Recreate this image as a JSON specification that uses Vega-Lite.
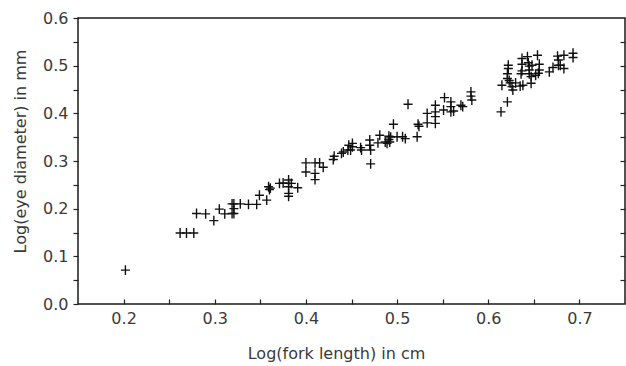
{
  "$schema": "https://vega.github.io/schema/vega-lite/v6.json",
  "autosize": "none",
  "width": 547,
  "height": 286,
  "padding": {"left": 78, "top": 18, "right": 1, "bottom": 62},
  "background": "white",
  "config": {
    "view": {"stroke": "#1a1a1a", "strokeWidth": 1.5},
    "axis": {"labelFont": "DejaVu Sans", "titleFont": "DejaVu Sans", "labelFontSize": 16, "titleFontSize": 16, "labelColor": "#3a3a3a", "titleColor": "#3a3a3a", "titleFontWeight": "normal", "grid": false, "domain": false, "tickColor": "#222", "tickWidth": 1.2}
  },
  "data": {"values": [
    {"x": 0.202, "y": 0.071},
    {"x": 0.262, "y": 0.149}, {"x": 0.269, "y": 0.149}, {"x": 0.277, "y": 0.149},
    {"x": 0.280, "y": 0.190}, {"x": 0.290, "y": 0.189}, {"x": 0.299, "y": 0.175},
    {"x": 0.305, "y": 0.199}, {"x": 0.311, "y": 0.189},
    {"x": 0.319, "y": 0.190}, {"x": 0.319, "y": 0.210},
    {"x": 0.321, "y": 0.210}, {"x": 0.321, "y": 0.200}, {"x": 0.321, "y": 0.190},
    {"x": 0.328, "y": 0.210}, {"x": 0.337, "y": 0.209}, {"x": 0.346, "y": 0.209},
    {"x": 0.349, "y": 0.228}, {"x": 0.357, "y": 0.218},
    {"x": 0.359, "y": 0.246}, {"x": 0.360, "y": 0.240}, {"x": 0.361, "y": 0.243},
    {"x": 0.371, "y": 0.253}, {"x": 0.375, "y": 0.254},
    {"x": 0.381, "y": 0.260}, {"x": 0.381, "y": 0.253}, {"x": 0.381, "y": 0.246}, {"x": 0.384, "y": 0.253},
    {"x": 0.381, "y": 0.232}, {"x": 0.381, "y": 0.226},
    {"x": 0.391, "y": 0.244},
    {"x": 0.400, "y": 0.296}, {"x": 0.400, "y": 0.277},
    {"x": 0.410, "y": 0.296}, {"x": 0.415, "y": 0.296},
    {"x": 0.410, "y": 0.274}, {"x": 0.410, "y": 0.261},
    {"x": 0.419, "y": 0.287},
    {"x": 0.430, "y": 0.303}, {"x": 0.431, "y": 0.310},
    {"x": 0.439, "y": 0.316}, {"x": 0.441, "y": 0.319},
    {"x": 0.446, "y": 0.323}, {"x": 0.447, "y": 0.333},
    {"x": 0.449, "y": 0.323}, {"x": 0.451, "y": 0.337}, {"x": 0.451, "y": 0.330},
    {"x": 0.460, "y": 0.328}, {"x": 0.461, "y": 0.323},
    {"x": 0.470, "y": 0.344}, {"x": 0.470, "y": 0.333}, {"x": 0.471, "y": 0.323},
    {"x": 0.471, "y": 0.294},
    {"x": 0.479, "y": 0.338}, {"x": 0.481, "y": 0.354},
    {"x": 0.487, "y": 0.340},
    {"x": 0.491, "y": 0.352}, {"x": 0.491, "y": 0.345}, {"x": 0.492, "y": 0.340}, {"x": 0.489, "y": 0.337}, {"x": 0.493, "y": 0.350},
    {"x": 0.496, "y": 0.377},
    {"x": 0.500, "y": 0.351},
    {"x": 0.506, "y": 0.351}, {"x": 0.509, "y": 0.347},
    {"x": 0.512, "y": 0.419},
    {"x": 0.522, "y": 0.351},
    {"x": 0.523, "y": 0.377}, {"x": 0.524, "y": 0.373},
    {"x": 0.533, "y": 0.400}, {"x": 0.533, "y": 0.380},
    {"x": 0.542, "y": 0.417}, {"x": 0.542, "y": 0.403}, {"x": 0.542, "y": 0.393}, {"x": 0.542, "y": 0.379},
    {"x": 0.552, "y": 0.433}, {"x": 0.551, "y": 0.407},
    {"x": 0.559, "y": 0.424}, {"x": 0.559, "y": 0.414}, {"x": 0.559, "y": 0.403},
    {"x": 0.562, "y": 0.405},
    {"x": 0.570, "y": 0.417}, {"x": 0.572, "y": 0.414},
    {"x": 0.581, "y": 0.445}, {"x": 0.581, "y": 0.436}, {"x": 0.582, "y": 0.428},
    {"x": 0.614, "y": 0.403}, {"x": 0.621, "y": 0.424}, {"x": 0.615, "y": 0.459},
    {"x": 0.621, "y": 0.473}, {"x": 0.621, "y": 0.483}, {"x": 0.622, "y": 0.494}, {"x": 0.622, "y": 0.501},
    {"x": 0.623, "y": 0.469}, {"x": 0.624, "y": 0.464},
    {"x": 0.626, "y": 0.456}, {"x": 0.627, "y": 0.449},
    {"x": 0.630, "y": 0.464},
    {"x": 0.635, "y": 0.457}, {"x": 0.638, "y": 0.459},
    {"x": 0.637, "y": 0.515}, {"x": 0.637, "y": 0.503}, {"x": 0.637, "y": 0.489}, {"x": 0.636, "y": 0.483},
    {"x": 0.643, "y": 0.519}, {"x": 0.644, "y": 0.506}, {"x": 0.645, "y": 0.499}, {"x": 0.645, "y": 0.491}, {"x": 0.645, "y": 0.483},
    {"x": 0.647, "y": 0.477}, {"x": 0.647, "y": 0.463},
    {"x": 0.648, "y": 0.501},
    {"x": 0.654, "y": 0.522},
    {"x": 0.656, "y": 0.503}, {"x": 0.656, "y": 0.491}, {"x": 0.655, "y": 0.484},
    {"x": 0.652, "y": 0.480},
    {"x": 0.667, "y": 0.487},
    {"x": 0.676, "y": 0.520}, {"x": 0.677, "y": 0.512}, {"x": 0.677, "y": 0.501}, {"x": 0.679, "y": 0.501},
    {"x": 0.671, "y": 0.496},
    {"x": 0.683, "y": 0.522}, {"x": 0.683, "y": 0.494},
    {"x": 0.693, "y": 0.526}, {"x": 0.693, "y": 0.517}
  ]},
  "layer": [
    {
      "mark": {"type": "point", "shape": "M-1,0L1,0M0,-1.1L0,1.1", "size": 81, "filled": false, "stroke": "#111", "strokeWidth": 1.4, "opacity": 1},
      "encoding": {
        "x": {"field": "x", "type": "quantitative", "scale": {"domain": [0.15, 0.75], "nice": false, "zero": false},
          "axis": {"title": "Log(fork length) in cm", "values": [0.2, 0.25, 0.3, 0.35, 0.4, 0.45, 0.5, 0.55, 0.6, 0.65, 0.7],
            "labelExpr": "abs(datum.value*10 - round(datum.value*10)) < 0.01 ? format(datum.value, '.1f') : ''",
            "tickSize": -5, "labelPadding": 11, "titleX": 258, "titleY": 49, "titleBaseline": "middle", "titleAlign": "center"}},
        "y": {"field": "y", "type": "quantitative", "scale": {"domain": [0, 0.6], "nice": false},
          "axis": {"title": "Log(eye diameter) in mm", "values": [0, 0.05, 0.1, 0.15, 0.2, 0.25, 0.3, 0.35, 0.4, 0.45, 0.5, 0.55, 0.6],
            "labelExpr": "abs(datum.value*10 - round(datum.value*10)) < 0.01 ? format(datum.value, '.1f') : ''",
            "tickSize": 5, "labelPadding": 5, "titleX": -58, "titleY": 133, "titleBaseline": "middle", "titleAlign": "center", "titleAngle": -90}}
      }
    },
    {
      "mark": {"type": "point", "opacity": 0},
      "encoding": {
        "x": {"field": "x", "type": "quantitative"},
        "y": {"field": "y", "type": "quantitative",
          "axis": {"orient": "right", "title": null, "labels": false, "values": [0.05, 0.1, 0.15, 0.2, 0.25, 0.3, 0.35, 0.4, 0.45, 0.5, 0.55], "tickSize": -5}}
      }
    }
  ],
  "resolve": {"axis": {"y": "independent"}}
}
